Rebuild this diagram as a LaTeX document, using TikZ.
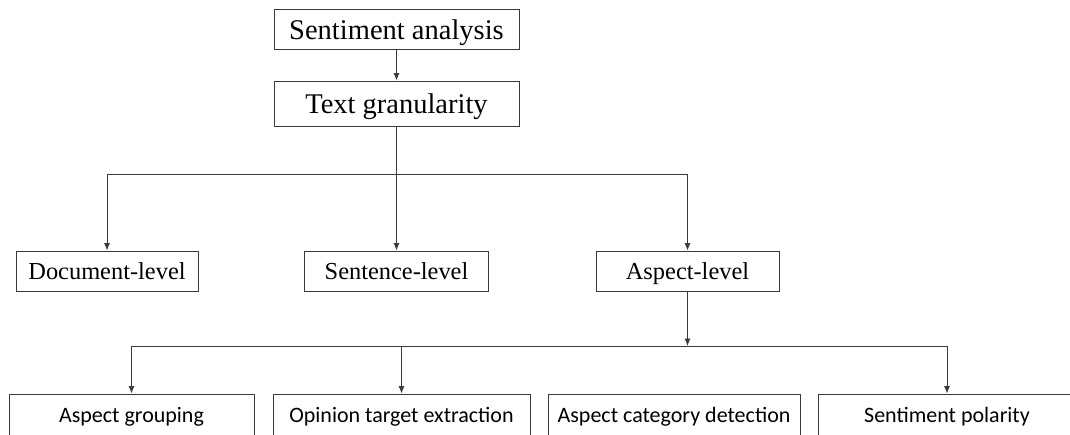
\documentclass[tikz,border=0pt]{standalone}
\usepackage{fontspec}
\setmainfont{Liberation Serif}
\newfontfamily\calfont{Carlito}
\usetikzlibrary{arrows.meta}
\definecolor{edge}{HTML}{3A3A3A}
\tikzset{
  box/.style={draw=edge, line width=0.9pt, fill=white, inner sep=0pt, align=center},
  topbox/.style={box, minimum width=245pt, text height=22pt, text depth=2pt, font=\fontsize{28.5}{30}\selectfont},
  lvlbox/.style={box, minimum height=40pt, text height=18pt, text depth=2pt, font=\fontsize{24.4}{26}\selectfont},
  subbox/.style={box, minimum height=46pt, text height=15pt, text depth=5pt, font=\calfont\fontsize{22}{24}\selectfont},
  conn/.style={draw=edge, line width=0.9pt},
  arr/.style={conn, -{Latex[length=7.5pt,width=6pt]}}
}
\begin{document}
\begin{tikzpicture}[x=1pt,y=-1pt]
\useasboundingbox (0,0) rectangle (1070,434);
\node[topbox, minimum height=40pt] (sa) at (396.5,29) {Sentiment analysis};
\node[topbox, minimum height=45pt] (tg) at (396.5,103.5) {Text granularity};
\node[lvlbox, minimum width=182pt] (doc) at (107,271) {Document-level};
\node[lvlbox, minimum width=184pt] (sen) at (396.5,271) {Sentence-level};
\node[lvlbox, minimum width=183pt] (asp) at (687.5,271) {Aspect-level};
\node[subbox, minimum width=245pt] (ag) at (131.5,417) {Aspect grouping};
\node[subbox, minimum width=257pt] (ote) at (401.5,417) {Opinion target extraction};
\node[subbox, minimum width=252pt] (acd) at (674,417) {Aspect category detection};
\node[subbox, minimum width=258pt] (sp) at (947,417) {Sentiment polarity};
\coordinate (j1) at (396.5,174);
\coordinate (j2) at (687.5,346);
\draw[arr] (sa) -- (tg);
\draw[arr] (tg) -- (sen);
\draw[arr] (j1) -| (doc.north);
\draw[arr] (j1) -| (asp.north);
\draw[arr] (asp) -- (j2);
\draw[arr] (j2) -| (ag.north);
\draw[arr] (j2) -| (ote.north);
\draw[arr] (j2) -| (sp.north);
\end{tikzpicture}
\end{document}
